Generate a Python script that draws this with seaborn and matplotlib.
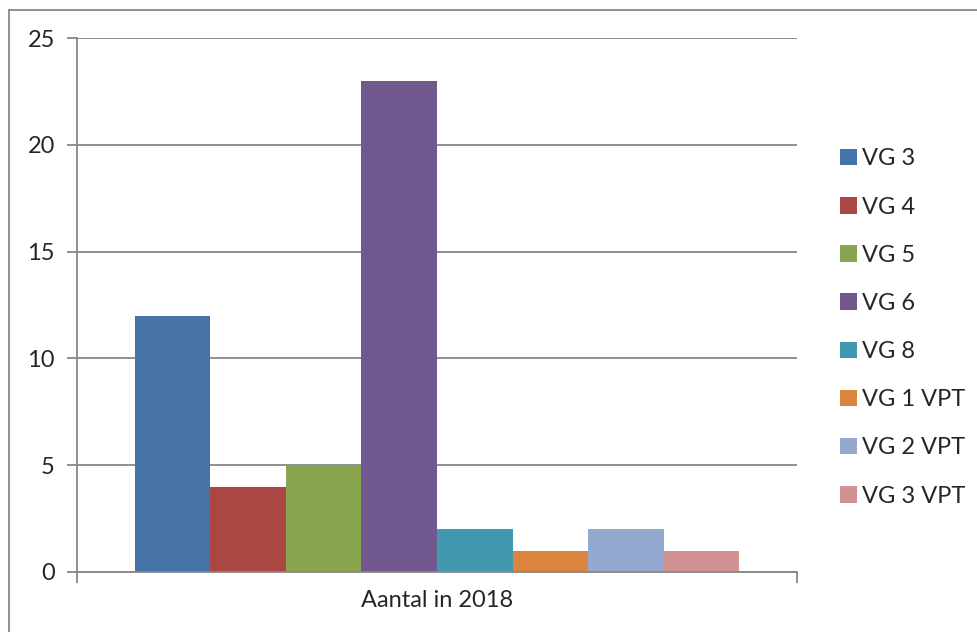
import matplotlib
matplotlib.use("Agg")
import matplotlib.pyplot as plt
import seaborn as sns
import pandas as pd
from matplotlib.patches import Rectangle

categories = ["Aantal in 2018"]
series = ["VG 3", "VG 4", "VG 5", "VG 6", "VG 8", "VG 1 VPT", "VG 2 VPT", "VG 3 VPT"]
values = [12, 4, 5, 23, 2, 1, 2, 1]
colors = ["#4572A7", "#AA4643", "#89A54E", "#71588F", "#4198AF", "#DB843D", "#93A9CF", "#D19392"]
yticks = [0, 5, 10, 15, 20, 25]

sns.set_style("white")
plt.rcParams["font.family"] = ["Lato", "DejaVu Sans"]

df = pd.DataFrame({"category": categories * len(series), "series": series, "value": values})

W, H = 978, 632
fig = plt.figure(figsize=(W / 100, H / 100), dpi=100)
ax = fig.add_axes([77 / W, (H - 572) / H, 720 / W, (572 - 38) / H])

sns.barplot(data=df, x="category", y="value", hue="series", hue_order=series,
            palette=colors, width=0.84, gap=0, saturation=1, ax=ax, legend=True,
            linewidth=0, edgecolor="none")

gray = "#878787"
fs = 17
ax.set_xlim(-0.5, 0.5)
ax.set_ylim(0, 25)
ax.set_yticks(yticks)
ax.yaxis.grid(True, color=gray, lw=1.3)
ax.set_axisbelow(True)
for s in ["top", "right"]:
    ax.spines[s].set_visible(False)
for s in ["left", "bottom"]:
    ax.spines[s].set_color(gray)
    ax.spines[s].set_linewidth(1.3)
ax.tick_params(axis="y", length=7, width=1.3, color=gray, labelsize=fs, pad=9, left=True)
ax.tick_params(axis="x", length=0, labelsize=fs, pad=13)
ax.set_xticks([-0.5, 0.5], minor=True)
ax.tick_params(axis="x", which="minor", length=8, width=1.3, color=gray, bottom=True)
ax.set_xlabel("")
ax.set_ylabel("")

handles, labels = ax.get_legend_handles_labels()
ax.get_legend().remove()
fig.legend(handles, labels, loc="upper left", bbox_to_anchor=(831 / W, 1 - 139 / H),
           frameon=False, fontsize=fs, handlelength=0.7, handleheight=0.7,
           handletextpad=0.2, labelspacing=1.15, borderaxespad=0)

fig.patches.append(Rectangle((9 / W, -0.05), 1.1, 1 - 10 / H + 0.05, transform=fig.transFigure,
                             fill=False, edgecolor=gray, lw=1.3))

fig.savefig("out.png", dpi=100)
